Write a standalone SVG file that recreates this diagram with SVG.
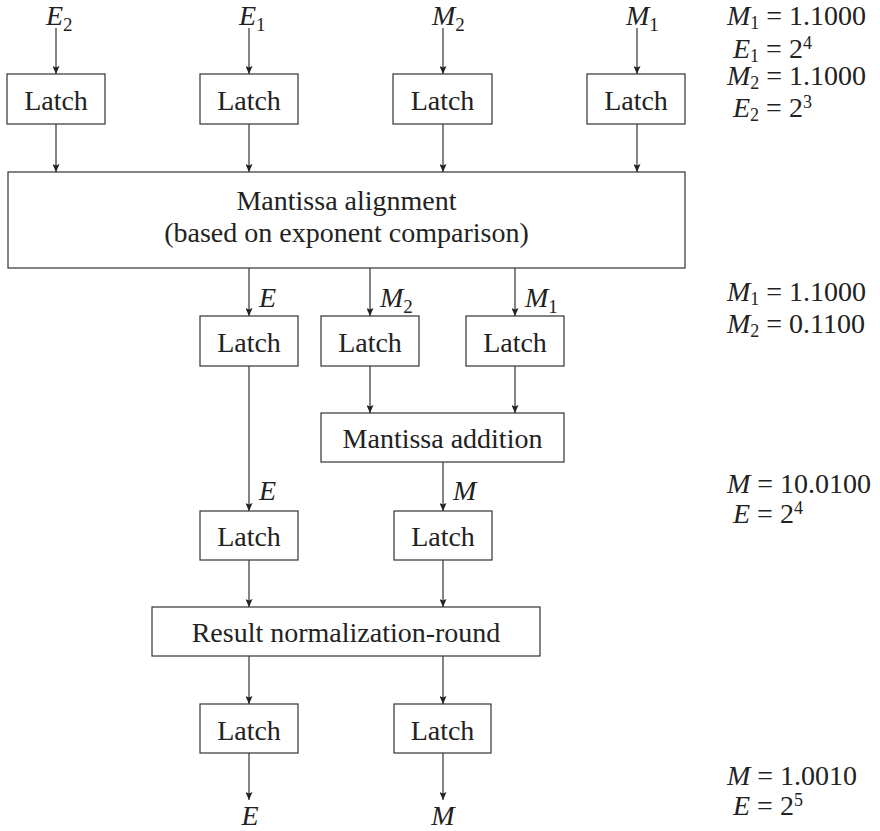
<svg xmlns="http://www.w3.org/2000/svg" width="880" height="831" viewBox="0 0 880 831">
<defs>
<marker id="ah" markerUnits="userSpaceOnUse" markerWidth="8" markerHeight="7" refX="8" refY="3.5" orient="auto">
<path d="M0,0 L8,3.5 L0,7 L1.5,3.5 z" fill="#222"/>
</marker>
<style>
text{font-family:'Liberation Serif','Times New Roman',serif;font-size:28px;fill:#222}
.box{fill:#fff;stroke:#333;stroke-width:1.2}
.c{text-anchor:middle}
.i{font-style:italic}
.s{font-size:19px}
.eq .s{font-size:18px}
.con line{stroke:#333;stroke-width:1.2;marker-end:url(#ah)}
</style>
</defs>
<rect width="880" height="831" fill="#fff"/>

<g id="connectors" class="con">
<line x1="56" y1="28" x2="56" y2="74"/>
<line x1="249" y1="28" x2="249" y2="74"/>
<line x1="443" y1="28" x2="443" y2="74"/>
<line x1="637" y1="28" x2="637" y2="74"/>
<line x1="56" y1="124" x2="56" y2="172"/>
<line x1="249" y1="124" x2="249" y2="172"/>
<line x1="443" y1="124" x2="443" y2="172"/>
<line x1="637" y1="124" x2="637" y2="172"/>
<line x1="249" y1="268" x2="249" y2="316"/>
<line x1="370" y1="268" x2="370" y2="316"/>
<line x1="515" y1="268" x2="515" y2="316"/>
<line x1="370" y1="366" x2="370" y2="413"/>
<line x1="515" y1="366" x2="515" y2="413"/>
<line x1="249" y1="366" x2="249" y2="511"/>
<line x1="443" y1="462" x2="443" y2="511"/>
<line x1="249" y1="560" x2="249" y2="607"/>
<line x1="443" y1="560" x2="443" y2="607"/>
<line x1="249" y1="656" x2="249" y2="704"/>
<line x1="443" y1="656" x2="443" y2="704"/>
<line x1="249" y1="753" x2="249" y2="800"/>
<line x1="443" y1="753" x2="443" y2="800"/>
</g>

<g id="labels">
<text x="46" y="25"><tspan class="i">E</tspan><tspan class="s" dy="6">2</tspan></text>
<text x="239" y="25"><tspan class="i">E</tspan><tspan class="s" dy="6">1</tspan></text>
<text x="432" y="25"><tspan class="i">M</tspan><tspan class="s" dy="6">2</tspan></text>
<text x="626" y="25"><tspan class="i">M</tspan><tspan class="s" dy="6">1</tspan></text>
<text x="259" y="307" class="i">E</text>
<text x="380" y="307"><tspan class="i">M</tspan><tspan class="s" dy="6">2</tspan></text>
<text x="525" y="307"><tspan class="i">M</tspan><tspan class="s" dy="6">1</tspan></text>
<text x="259" y="500" class="i">E</text>
<text x="453" y="500" class="i">M</text>
<text x="250" y="825" class="i c">E</text>
<text x="443" y="825" class="i c">M</text>
</g>

<g id="latch-e2"><rect class="box" x="7" y="74" width="98" height="50"/><text class="c" x="56" y="110">Latch</text></g>
<g id="latch-e1"><rect class="box" x="200" y="74" width="98" height="50"/><text class="c" x="249" y="110">Latch</text></g>
<g id="latch-m2"><rect class="box" x="393" y="74" width="99" height="50"/><text class="c" x="442.5" y="110">Latch</text></g>
<g id="latch-m1"><rect class="box" x="587" y="74" width="98" height="50"/><text class="c" x="636" y="110">Latch</text></g>

<g id="align"><rect class="box" x="8" y="172" width="677" height="96"/>
<text class="c" x="346.5" y="210">Mantissa alignment</text>
<text class="c" x="346.5" y="242">(based on exponent comparison)</text></g>

<g id="latch-e-2"><rect class="box" x="200" y="316" width="98" height="50"/><text class="c" x="249" y="352">Latch</text></g>
<g id="latch-m2-2"><rect class="box" x="321" y="316" width="98" height="50"/><text class="c" x="370" y="352">Latch</text></g>
<g id="latch-m1-2"><rect class="box" x="466" y="316" width="98" height="50"/><text class="c" x="515" y="352">Latch</text></g>

<g id="addition"><rect class="box" x="321" y="413" width="243" height="49"/><text class="c" x="442.5" y="448">Mantissa addition</text></g>

<g id="latch-e-3"><rect class="box" x="200" y="511" width="98" height="49"/><text class="c" x="249" y="546">Latch</text></g>
<g id="latch-m-3"><rect class="box" x="394" y="511" width="98" height="49"/><text class="c" x="443" y="546">Latch</text></g>

<g id="normalize"><rect class="box" x="152" y="607" width="388" height="49"/><text class="c" x="346" y="642">Result normalization-round</text></g>

<g id="latch-e-4"><rect class="box" x="200" y="704" width="98" height="49"/><text class="c" x="249" y="740">Latch</text></g>
<g id="latch-m-4"><rect class="box" x="394" y="704" width="97" height="49"/><text class="c" x="442.5" y="740">Latch</text></g>

<g id="values" class="eq">
<text x="727" y="25"><tspan class="i">M</tspan><tspan class="s" dy="4">1</tspan><tspan dy="-4"> = 1.1000</tspan></text>
<text x="733" y="58"><tspan class="i">E</tspan><tspan class="s" dy="4">1</tspan><tspan dy="-4"> = 2</tspan><tspan class="s" dy="-9">4</tspan></text>
<text x="727" y="85"><tspan class="i">M</tspan><tspan class="s" dy="4">2</tspan><tspan dy="-4"> = 1.1000</tspan></text>
<text x="733" y="117"><tspan class="i">E</tspan><tspan class="s" dy="4">2</tspan><tspan dy="-4"> = 2</tspan><tspan class="s" dy="-9">3</tspan></text>
<text x="727" y="301"><tspan class="i">M</tspan><tspan class="s" dy="4">1</tspan><tspan dy="-4"> = 1.1000</tspan></text>
<text x="727" y="333"><tspan class="i">M</tspan><tspan class="s" dy="4">2</tspan><tspan dy="-4"> = 0.1100</tspan></text>
<text x="727" y="493"><tspan class="i">M</tspan> = 10.0100</text>
<text x="733" y="523"><tspan class="i">E</tspan> = 2<tspan class="s" dy="-9">4</tspan></text>
<text x="727" y="785"><tspan class="i">M</tspan> = 1.0010</text>
<text x="733" y="815"><tspan class="i">E</tspan> = 2<tspan class="s" dy="-9">5</tspan></text>
</g>
</svg>
